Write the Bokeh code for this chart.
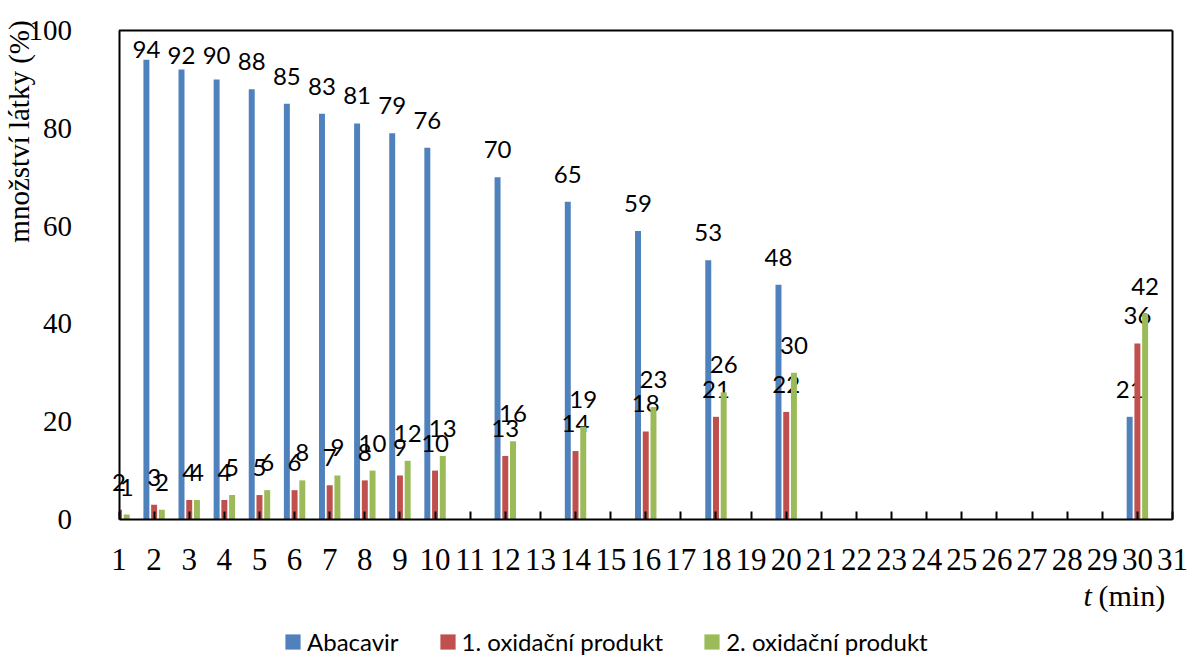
import math

from bokeh.core.properties import value
from bokeh.embed import file_html
from bokeh.models import FixedTicker, Label, Legend, LegendItem, Range1d
from bokeh.plotting import figure
from bokeh.resources import INLINE

# Measurement times (min) and relative amounts (%)
time_min = [1, 2, 3, 4, 5, 6, 7, 8, 9, 10, 12, 14, 16, 18, 20, 30]
abacavir = [None, 94, 92, 90, 88, 85, 83, 81, 79, 76, 70, 65, 59, 53, 48, 21]
product_1 = [2, 3, 4, 4, 5, 6, 7, 8, 9, 10, 13, 14, 18, 21, 22, 36]
product_2 = [1, 2, 4, 5, 6, 8, 9, 10, 12, 13, 16, 19, 23, 26, 30, 42]

series_names = ["Abacavir", "1. oxidační produkt", "2. oxidační produkt"]
series_values = [abacavir, product_1, product_2]
series_colors = ["#4F81BD", "#C0504D", "#9BBB59"]

x_ticks = [1, 2, 3, 4, 5, 6, 7, 8, 9, 10, 11, 12, 13, 14, 15, 16,
           17, 18, 19, 20, 21, 22, 23, 24, 25, 26, 27, 28, 29, 30, 31]
y_ticks = [0, 20, 40, 60, 80, 100]

y_title = "množství látky (%)"
x_title_var = "t"
x_title_unit = "(min)"

SERIF = "Liberation Serif"
SANS = "Lato"

# canvas and the pixel box of the plotting area inside it
W, H = 1189, 655
BOX_L, BOX_R, BOX_T, BOX_B = 118.5, 1172.0, 30.0, 519.0

x_lo, x_hi = x_ticks[0], x_ticks[-1]
y_lo, y_hi = y_ticks[0], y_ticks[-1]
px_x = (BOX_R - BOX_L) / (x_hi - x_lo)
px_y = (BOX_B - BOX_T) / (y_hi - y_lo)

# the frame spans the whole canvas; axes sit at fixed data locations
x_range = Range1d(x_lo - BOX_L / px_x, x_hi + (W - BOX_R) / px_x)
y_range = Range1d(y_lo - (H - BOX_B) / px_y, y_hi + BOX_T / px_y)

p = figure(
    width=W, height=H, x_range=x_range, y_range=y_range,
    output_backend="svg", toolbar_location=None,
    min_border=0, min_border_left=0, min_border_right=0,
    min_border_top=0, min_border_bottom=0,
    background_fill_color="white", border_fill_color="white",
)
p.title.visible = False
p.grid.visible = False
p.outline_line_color = None

xa = p.xaxis[0]
xa.fixed_location = y_lo
xa.bounds = (x_lo, x_hi)
xa.ticker = FixedTicker(ticks=x_ticks)
xa.axis_line_color = "black"
xa.axis_line_width = 2
xa.major_tick_in = 8
xa.major_tick_out = 0
xa.major_tick_line_color = "black"
xa.major_tick_line_width = 2
xa.minor_tick_line_color = None
xa.major_label_standoff = 29
xa.major_label_text_font = SERIF
xa.major_label_text_font_size = "31px"
xa.major_label_text_color = "black"

ya = p.yaxis[0]
ya.fixed_location = x_lo
ya.bounds = (y_lo, y_hi)
ya.ticker = FixedTicker(ticks=y_ticks)
ya.axis_line_color = "black"
ya.axis_line_width = 2
ya.major_tick_in = 0
ya.major_tick_out = 0
ya.major_tick_line_color = None
ya.minor_tick_line_color = None
ya.major_label_standoff = 47
ya.major_label_text_font = SERIF
ya.major_label_text_font_size = "29px"
ya.major_label_text_color = "black"

# top and right edges of the plotting box
p.segment(x0=[x_lo, x_hi], y0=[y_hi, y_lo], x1=[x_hi, x_hi], y1=[y_hi, y_hi],
          line_color="black", line_width=2)

# grouped bars: series side by side around each time tick
offsets = [-0.22, 0.0, 0.22]
bar_width = 0.17
gap_px = 19          # label bottom above the bar top
half_text_px = 8.5   # label centre above its bottom
top_limit_px = 456   # highest label bottom, measured from the zero line

legend_items = []
for name, vals, color, off in zip(series_names, series_values, series_colors, offsets):
    left, right, tops, lx, ly, lt = [], [], [], [], [], []
    for t, v in zip(time_min, vals):
        if v is None:
            continue
        xc = t + off
        # bars are cut at the value axis, as the plotting box ends there
        left.append(max(xc - bar_width / 2, x_lo))
        right.append(xc + bar_width / 2)
        tops.append(v)
        bar_px = v * px_y
        bottom_px = min(bar_px + gap_px, max(bar_px + 2, top_limit_px))
        lx.append(xc)
        ly.append((bottom_px + half_text_px) / px_y)
        lt.append(str(v))
    r = p.quad(left=left, right=right, bottom=y_lo, top=tops,
               fill_color=color, line_color=None)
    legend_items.append(LegendItem(label=name, renderers=[r]))
    p.text(x=lx, y=ly, text=lt, text_font=value(SANS), text_font_size="24px",
           text_align="center", text_baseline="middle", text_color="black")

legend = Legend(
    items=legend_items, orientation="horizontal",
    location=(283, -1),
    glyph_width=19, glyph_height=19, label_standoff=5, spacing=39,
    padding=0, margin=0, border_line_color=None, background_fill_alpha=0,
    label_text_font=SANS, label_text_font_size="24px", label_text_color="black",
    label_height=19,
)
p.add_layout(legend)

# axis titles (screen units: from the canvas bottom-left)
p.add_layout(Label(
    x=18, y=H - 131, x_units="screen", y_units="screen",
    text=y_title, angle=math.pi / 2, text_align="center", text_baseline="middle",
    text_font=SERIF, text_font_size="29px", text_color="black",
))
p.add_layout(Label(
    x=1083, y=H - 595, x_units="screen", y_units="screen",
    text=x_title_var, text_align="left", text_baseline="middle",
    text_font=SERIF, text_font_size="30px", text_font_style="italic", text_color="black",
))
p.add_layout(Label(
    x=1098, y=H - 595, x_units="screen", y_units="screen",
    text=x_title_unit, text_align="left", text_baseline="middle",
    text_font=SERIF, text_font_size="30px", text_color="black",
))

open("out.html", "w").write(file_html(p, INLINE))
